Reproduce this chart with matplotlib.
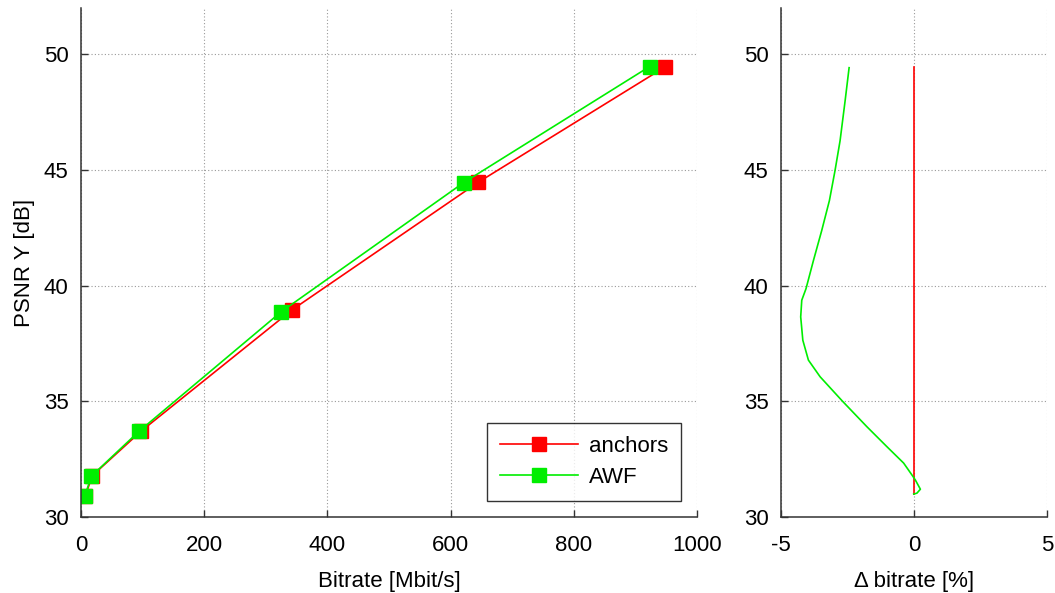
import matplotlib
matplotlib.use("Agg")
import matplotlib.pyplot as plt

plt.rcParams['font.family'] = ['Liberation Sans', 'DejaVu Sans']
plt.rcParams['axes.unicode_minus'] = False

# Rate-distortion data
anchors_rate = [7, 18, 98, 343, 645, 948]
anchors_psnr = [30.9, 31.78, 33.72, 38.96, 44.47, 49.45]
awf_rate = [6, 17, 94, 325, 621, 923]
awf_psnr = [30.9, 31.77, 33.70, 38.87, 44.45, 49.47]

# Delta bitrate curve (AWF vs anchors)
delta_psnr = [30.99, 31.03, 31.2, 31.6, 31.82, 32.33, 33.04, 33.9, 35.03, 36.06,
              36.78, 37.64, 38.65, 39.37, 39.87, 41.09, 42.38, 43.68, 44.97,
              46.26, 47.99, 49.42]
delta_awf = [-0.01, 0.11, 0.24, 0.05, -0.08, -0.39, -1.02, -1.77, -2.71, -3.53,
             -3.97, -4.18, -4.26, -4.22, -4.06, -3.78, -3.47, -3.18, -2.97,
             -2.78, -2.59, -2.44]
delta_anchor_psnr = [30.99, 49.45]
delta_anchor = [0.0, 0.0]

RED = '#ff0000'
GREEN = '#00ee00'
FS = 16

fig = plt.figure(figsize=(10.55, 5.93), dpi=100)
ax1 = fig.add_axes([0.0768, 0.1282, 0.5839, 0.8583])
ax2 = fig.add_axes([0.7403, 0.1282, 0.2521, 0.8583])

for ax in (ax1, ax2):
    for s in ('top', 'right'):
        ax.spines[s].set_visible(False)
    for s in ('left', 'bottom'):
        ax.spines[s].set_color('#333333')
        ax.spines[s].set_linewidth(1.1)
    ax.tick_params(direction='in', length=5, width=1, colors='#333333',
                   labelcolor='black', labelsize=FS, pad=9)
    ax.tick_params(axis='x', pad=13)
    ax.grid(True, linestyle=(0, (1, 2)), color='#999999', linewidth=0.8)
    ax.set_ylim(30, 52)
    ax.set_yticks([30, 35, 40, 45, 50])

ax1.plot(anchors_rate, anchors_psnr, '-s', color=RED, lw=1.2, ms=10,
         mec=RED, mfc=RED, label='anchors')
ax1.plot(awf_rate, awf_psnr, '-s', color=GREEN, lw=1.2, ms=10,
         mec=GREEN, mfc=GREEN, label='AWF')
ax1.set_xlim(0, 1000)
ax1.set_xticks([0, 200, 400, 600, 800, 1000])
ax1.set_xlabel('Bitrate [Mbit/s]', fontsize=FS, labelpad=11)
ax1.set_ylabel('PSNR Y [dB]', fontsize=FS, labelpad=6)
leg = ax1.legend(loc='lower right', fontsize=FS, frameon=True, fancybox=False,
                 edgecolor='black', borderpad=0.6, handlelength=3.5,
                 handletextpad=0.5, borderaxespad=0.7, labelspacing=0.45)
leg.get_frame().set_linewidth(1.0)

ax2.plot(delta_anchor, delta_anchor_psnr, '-', color=RED, lw=1.2)
ax2.plot(delta_awf, delta_psnr, '-', color=GREEN, lw=1.2)
ax2.set_xlim(-5, 5)
ax2.set_xticks([-5, 0, 5])
ax2.set_xlabel('Δ bitrate [%]', fontsize=FS, labelpad=11)

fig.savefig('out.png', dpi=100)
